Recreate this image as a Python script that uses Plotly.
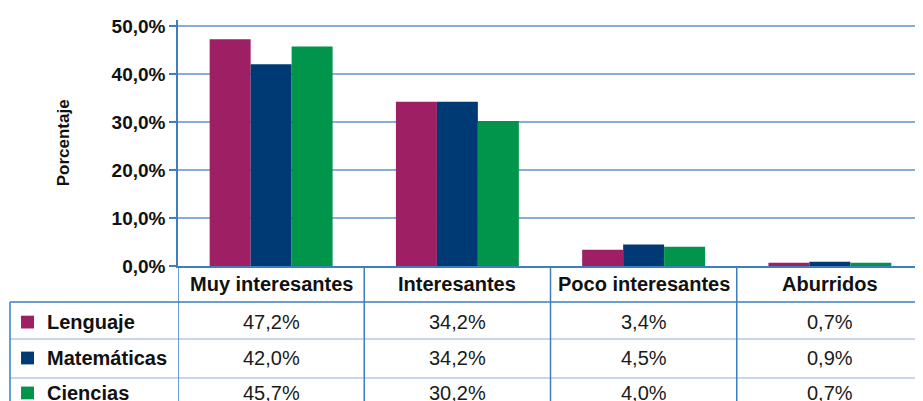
import plotly.graph_objects as go

categories = ["Muy interesantes", "Interesantes", "Poco interesantes", "Aburridos"]
series_names = ["Lenguaje", "Matemáticas", "Ciencias"]
lenguaje = [47.2, 34.2, 3.4, 0.7]
matematicas = [42.0, 34.2, 4.5, 0.9]
ciencias = [45.7, 30.2, 4.0, 0.7]
series_values = [lenguaje, matematicas, ciencias]
colors = ["#9E1F63", "#003A75", "#00954A"]
y_ticks = [0, 10, 20, 30, 40, 50]
y_tick_labels = ["0,0%", "10,0%", "20,0%", "30,0%", "40,0%", "50,0%"]
y_title = "Porcentaje"

FONT = "Liberation Sans, Arial, sans-serif"
TXT = "#111111"
LINE_BLUE = "#3D7DC0"
GRID_BLUE = "#86AEDA"
ROW_LINE = "#C9D5EC"


def fmt(v):
    return f"{v:.1f}".replace(".", ",") + "%"


fig = go.Figure()
for name, vals, col in zip(series_names, series_values, colors):
    fig.add_trace(go.Bar(x=categories, y=vals, name=name, marker_color=col,
                         marker_line_width=0, showlegend=False))

# table geometry (paper coords; y=0 is the zero line)
header_y = -0.073
row_ys = [-0.228, -0.374, -0.516]
row_lines = [-0.146, -0.297, -0.455]
bottom = -0.7
left_edge = -0.2255

annotations = []
for c in categories:
    annotations.append(dict(x=c, y=header_y, xref="x", yref="paper", text=c,
                            showarrow=False, yanchor="middle",
                            font=dict(family=FONT, size=20, color=TXT, weight="bold")))
for ry, name, vals, col in zip(row_ys, series_names, series_values, colors):
    annotations.append(dict(x=-0.1785, y=ry, xref="paper", yref="paper", text=name,
                            showarrow=False, xanchor="left", yanchor="middle",
                            font=dict(family=FONT, size=20, color=TXT, weight="bold")))
    for c, v in zip(categories, vals):
        annotations.append(dict(x=c, y=ry, xref="x", yref="paper", text=fmt(v),
                                showarrow=False, yanchor="middle",
                                font=dict(family=FONT, size=20, color="#1a1a1a")))

annotations.append(dict(x=-0.154, y=0.5, xref="paper", yref="paper", text=y_title,
                        textangle=-90, showarrow=False, xanchor="center", yanchor="middle",
                        font=dict(family=FONT, size=17, color=TXT, weight="bold")))

shapes = []
# horizontal line under header
shapes.append(dict(type="line", xref="paper", yref="paper", x0=left_edge, x1=1,
                   y0=row_lines[0], y1=row_lines[0], line=dict(color=LINE_BLUE, width=1.5)))
for ly in row_lines[1:]:
    shapes.append(dict(type="line", xref="paper", yref="paper", x0=left_edge, x1=1,
                       y0=ly, y1=ly, line=dict(color=ROW_LINE, width=2)))
# left border
shapes.append(dict(type="line", xref="paper", yref="paper", x0=left_edge, x1=left_edge,
                   y0=row_lines[0], y1=bottom, line=dict(color=LINE_BLUE, width=1.5)))
# column separators (table only)
for i in range(len(categories)):
    xb = i - 0.5
    shapes.append(dict(type="line", xref="x", yref="paper", x0=xb, x1=xb,
                       y0=0, y1=bottom, line=dict(color=LINE_BLUE, width=1.5)))
# legend squares
for ry, col in zip(row_ys, colors):
    shapes.append(dict(type="rect", xref="paper", yref="paper",
                       x0=-0.2107, x1=-0.1933, y0=ry - 0.026, y1=ry + 0.026,
                       fillcolor=col, line=dict(width=0)))

# page body has an 8px margin; margins compensate so the plot area sits at
# x 178..923, y 20..266 in the window
fig.update_layout(
    width=923, height=401,
    margin=dict(l=170, r=8, t=12, b=143),
    paper_bgcolor="white", plot_bgcolor="white",
    barmode="group", bargap=0.34, bargroupgap=0,
    annotations=annotations, shapes=shapes,
    xaxis=dict(type="category", range=[-0.5, 3.5], showticklabels=False,
               showgrid=False, zeroline=False, showline=True,
               linecolor=LINE_BLUE, linewidth=1.5, ticks=""),
    yaxis=dict(range=[0, 51.22], tickvals=y_ticks, ticktext=y_tick_labels,
               showgrid=True, gridcolor=GRID_BLUE, gridwidth=1.5,
               zeroline=False, showline=True, linecolor=LINE_BLUE, linewidth=1.5,
               ticks="outside", ticklen=7, tickcolor=LINE_BLUE, tickwidth=1.5,
               tickfont=dict(family=FONT, size=19, color=TXT, weight="bold")),
)

fig.write_html("out.html")
